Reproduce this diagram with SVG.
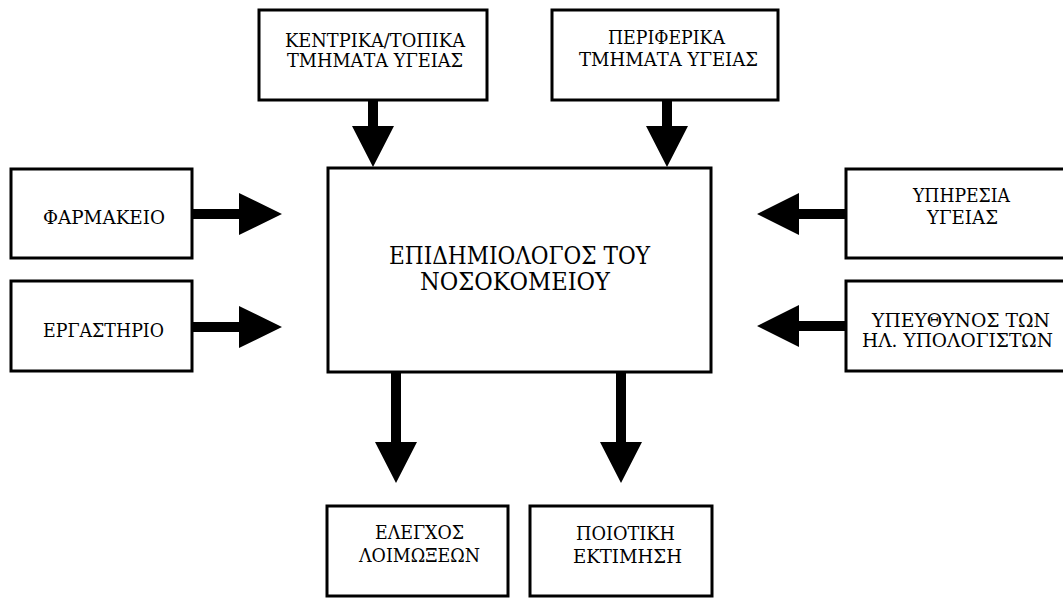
<svg xmlns="http://www.w3.org/2000/svg" width="1063" height="598" viewBox="0 0 1063 598">
<style>
.box{fill:#fff;stroke:#000;stroke-width:3}
.t{font-family:"DejaVu Serif","Liberation Serif",serif;font-size:19px;fill:#000;text-anchor:middle}
.big{font-size:24px}
.arr{fill:#000;stroke:none}
</style>
<rect width="1063" height="598" fill="#fff"/>
<g id="connectors">
<polygon class="arr" points="368,100 378,100 378,126 394,126 373,167 352,126 368,126"/>
<polygon class="arr" points="662,100 672,100 672,126 688,126 667,167 646,126 662,126"/>
<polygon class="arr" points="391,372 401,372 401,442 417,442 396,483 375,442 391,442"/>
<polygon class="arr" points="616,372 626,372 626,442 642,442 621,483 600,442 616,442"/>
<polygon class="arr" points="192,209 239,209 239,193 282,214 239,235 239,219 192,219"/>
<polygon class="arr" points="192,322 239,322 239,306 282,327 239,348 239,332 192,332"/>
<polygon class="arr" points="846,209 799,209 799,193 757,214 799,235 799,219 846,219"/>
<polygon class="arr" points="846,321 799,321 799,305 757,326 799,347 799,331 846,331"/>
</g>
<g id="central">
<rect class="box" x="328" y="168" width="383" height="204"/>
<text class="t big" x="519.5" y="264" textLength="261" lengthAdjust="spacingAndGlyphs">ΕΠΙΔΗΜΙΟΛΟΓΟΣ ΤΟΥ</text>
<text class="t big" x="515" y="290" textLength="190" lengthAdjust="spacingAndGlyphs">ΝΟΣΟΚΟΜΕΙΟΥ</text>
</g>
<g id="kentrika">
<rect class="box" x="259" y="10" width="228" height="90"/>
<text class="t" x="375" y="47" textLength="180" lengthAdjust="spacingAndGlyphs">ΚΕΝΤΡΙΚΑ/ΤΟΠΙΚΑ</text>
<text class="t" x="375" y="67" textLength="176" lengthAdjust="spacingAndGlyphs">ΤΜΗΜΑΤΑ ΥΓΕΙΑΣ</text>
</g>
<g id="periferika">
<rect class="box" x="552" y="10" width="226" height="90"/>
<text class="t" x="666.5" y="44" textLength="117" lengthAdjust="spacingAndGlyphs">ΠΕΡΙΦΕΡΙΚΑ</text>
<text class="t" x="668.5" y="66" textLength="179" lengthAdjust="spacingAndGlyphs">ΤΜΗΜΑΤΑ ΥΓΕΙΑΣ</text>
</g>
<g id="farmakeio">
<rect class="box" x="11" y="169" width="181" height="89"/>
<text class="t" x="104" y="224" textLength="122" lengthAdjust="spacingAndGlyphs">ΦΑΡΜΑΚΕΙΟ</text>
</g>
<g id="ergastirio">
<rect class="box" x="11" y="281" width="181" height="90"/>
<text class="t" x="103.5" y="337" textLength="121" lengthAdjust="spacingAndGlyphs">ΕΡΓΑΣΤΗΡΙΟ</text>
</g>
<g id="ypiresia">
<rect class="box" x="846" y="169" width="230" height="89"/>
<text class="t" x="961.5" y="202" textLength="97" lengthAdjust="spacingAndGlyphs">ΥΠΗΡΕΣΙΑ</text>
<text class="t" x="962.5" y="224" textLength="71" lengthAdjust="spacingAndGlyphs">ΥΓΕΙΑΣ</text>
</g>
<g id="ypefthynos">
<rect class="box" x="846" y="281" width="230" height="90"/>
<text class="t" x="961" y="327" textLength="178" lengthAdjust="spacingAndGlyphs">ΥΠΕΥΘΥΝΟΣ ΤΩΝ</text>
<text class="t" x="957.5" y="347" textLength="191" lengthAdjust="spacingAndGlyphs">ΗΛ. ΥΠΟΛΟΓΙΣΤΩΝ</text>
</g>
<g id="elegxos">
<rect class="box" x="327" y="506" width="181" height="90"/>
<text class="t" x="419.5" y="539" textLength="89" lengthAdjust="spacingAndGlyphs">ΕΛΕΓΧΟΣ</text>
<text class="t" x="419.5" y="562" textLength="121" lengthAdjust="spacingAndGlyphs">ΛΟΙΜΩΞΕΩΝ</text>
</g>
<g id="poiotiki">
<rect class="box" x="530" y="506" width="182" height="90"/>
<text class="t" x="625.5" y="540" textLength="99" lengthAdjust="spacingAndGlyphs">ΠΟΙΟΤΙΚΗ</text>
<text class="t" x="627.5" y="563" textLength="109" lengthAdjust="spacingAndGlyphs">ΕΚΤΙΜΗΣΗ</text>
</g>
</svg>
